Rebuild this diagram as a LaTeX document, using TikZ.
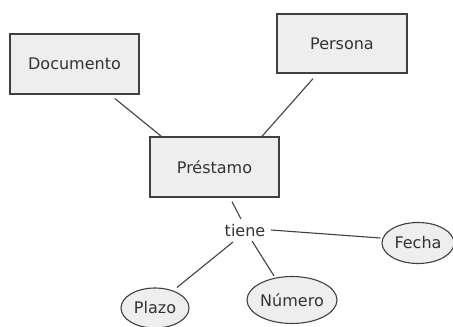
\documentclass[tikz,border=0pt]{standalone}
\usepackage{fontspec}
\setmainfont{DejaVu Sans}
\usetikzlibrary{shapes.geometric}
\definecolor{boxfill}{HTML}{EEEEEE}
\definecolor{edgecol}{HTML}{404040}
\definecolor{txt}{HTML}{333333}
\tikzset{
  entity/.style={draw=edgecol, line width=1.3pt, fill=boxfill, rectangle, inner sep=0pt,
    font=\fontsize{16}{19}\selectfont, text=txt},
  attr/.style={draw=edgecol, line width=1.1pt, fill=boxfill, ellipse, inner sep=0pt,
    font=\fontsize{16}{19}\selectfont, text=txt},
  rel/.style={inner sep=0pt, font=\fontsize{16}{19}\selectfont, text=txt},
  link/.style={draw=edgecol, line width=1.1pt}
}
\begin{document}
\begin{tikzpicture}[x=1pt, y=-1pt]
\useasboundingbox (0,0) rectangle (453,327);
\node[entity, minimum width=129pt, minimum height=60pt] (doc) at (74.5,64) {Documento};
\node[entity, minimum width=130pt, minimum height=59pt] (pers) at (342,43.5) {Persona};
\node[entity, minimum width=129pt, minimum height=60pt] (pres) at (214.5,167) {Préstamo};
\node[rel] (tiene) at (245,231) {tiene};
\node[attr, minimum width=72pt, minimum height=41pt] (fecha) at (418,243) {Fecha};
\node[attr, minimum width=68pt, minimum height=40pt] (plazo) at (155,308) {Plazo};
\node[attr, minimum width=90pt, minimum height=47pt] (numero) at (292,300) {Número};
\draw[link] ([xshift=40.5pt, yshift=-4pt]doc.south) -- ([xshift=12pt]pres.north west);
\draw[link] ([xshift=-29pt, yshift=-5pt]pers.south) -- ([xshift=47.5pt]pres.north);
\draw[link] ([xshift=17.5pt, yshift=-4pt]pres.south) -- ([xshift=-4pt, yshift=12pt]tiene.center);
\draw[link] ([xshift=26pt, yshift=1pt]tiene.center) -- ([xshift=-1pt, yshift=5pt]fecha.west);
\draw[link] ([xshift=-12pt, yshift=-11pt]tiene.center) -- ([xshift=22pt]plazo.north);
\draw[link] ([xshift=7pt, yshift=-10pt]tiene.center) -- ([xshift=-18pt]numero.north);
\end{tikzpicture}
\end{document}
